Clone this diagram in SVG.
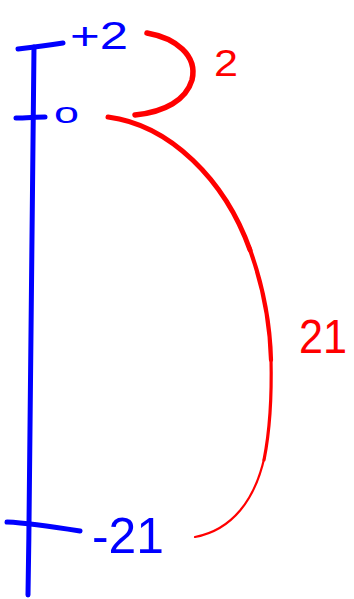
<svg xmlns="http://www.w3.org/2000/svg" width="354" height="599" viewBox="0 0 354 599">
<style>
.b{fill:none;stroke:#0000ff;stroke-width:5;stroke-linecap:round;stroke-linejoin:round}
.r{fill:none;stroke:#ff0000;stroke-linecap:round;stroke-linejoin:round}
.tb{font-family:"Liberation Sans",Arial,sans-serif;fill:#0000ff}
.tr{font-family:"Liberation Sans",Arial,sans-serif;fill:#ff0000}
</style>
<rect width="354" height="599" fill="#ffffff"/>
<g id="axis">
<path class="b" d="M34,47 C33,200 31,400 28,595"/>
<path class="b" d="M18,49 C35,47 50,45 63,43"/>
<path class="b" d="M16,118 C26,118 36,117 45,117"/>
<path class="b" d="M7,522 C30,523 55,527 80,531"/>
</g>
<g id="labels-blue">
<text class="tb" x="70" y="49" font-size="38" textLength="58" lengthAdjust="spacingAndGlyphs">+2</text>
<text class="tb" x="54" y="123" font-size="30" textLength="25" lengthAdjust="spacingAndGlyphs">o</text>
<text class="tb" x="92" y="553" font-size="50" textLength="72" lengthAdjust="spacingAndGlyphs">-21</text>
</g>
<g id="arcs">
<path class="r" stroke-width="5.5" d="M147,33 C175,38 198,55 192,80 C186,100 165,112 135,115"/>
<path class="r" stroke-width="5" d="M108,117 C170,125 225,180 250,250"/>
<path class="r" stroke-width="4.2" d="M249,247 C263,285 270,320 271,360"/>
<path class="r" stroke-width="3.2" d="M271,358 C272,400 270,430 264,460"/>
<path class="r" stroke-width="2.2" d="M264.5,457 C255,500 232,530 195,537"/>
</g>
<g id="labels-red">
<text class="tr" x="214" y="76" font-size="36" textLength="24" lengthAdjust="spacingAndGlyphs">2</text>
<text class="tr" x="299" y="353" font-size="48" textLength="48" lengthAdjust="spacingAndGlyphs">21</text>
</g>
</svg>
